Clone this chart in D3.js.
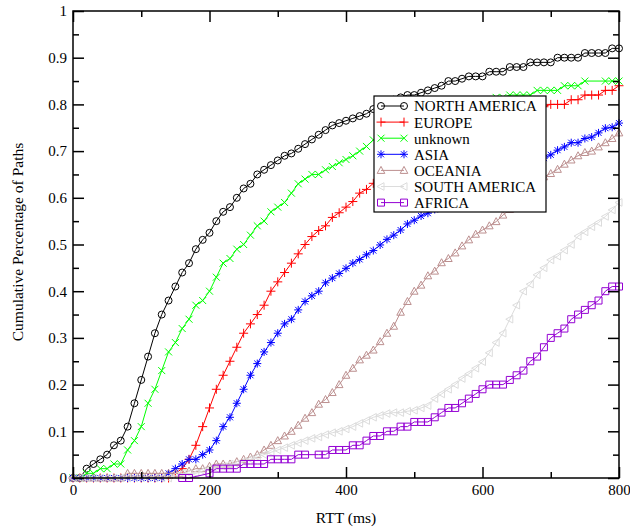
<!DOCTYPE html>
<html>
<head>
<meta charset="utf-8">
<script src="https://cdn.jsdelivr.net/npm/d3@7"></script>
<style>
  html, body { margin: 0; padding: 0; background: #fff; }
  svg { display: block; }
  text { font-family: "Liberation Serif", "Times New Roman", serif; fill: #000; }
</style>
</head>
<body>
<svg id="chart" width="630" height="529"></svg>
<script>
// RTT sample points (ms)
const rttMs = [0,10,20,30,40,50,60,70,80,90,100,110,120,130,140,150,160,170,180,190,
  200,210,220,230,240,250,260,270,280,290,300,310,320,330,340,350,360,370,380,390,
  400,410,420,430,440,450,460,470,480,490,500,510,520,530,540,550,560,570,580,590,
  600,610,620,630,640,650,660,670,680,690,700,710,720,730,740,750,760,770,780,790,800];

// Cumulative fraction of paths per region (null = no sample at that RTT)
const northAmerica = [0,0,0.02,0.03,0.04,0.05,0.07,0.08,0.11,0.16,0.21,0.26,0.31,0.35,0.38,0.41,0.44,0.46,0.49,0.51,
  0.525,0.55,0.57,0.58,0.60,0.62,0.63,0.65,0.66,0.67,0.68,0.69,0.695,0.705,0.715,0.725,0.735,0.745,0.755,0.76,
  0.765,0.77,0.775,0.78,0.79,0.795,0.80,0.81,0.815,0.82,0.82,0.825,0.83,0.835,0.84,0.85,0.85,0.855,0.86,0.86,
  0.86,0.87,0.87,0.87,0.88,0.88,0.88,0.89,0.89,0.89,0.89,0.90,0.90,0.90,0.90,0.91,0.91,0.91,0.91,0.92,0.92];
const europe = [0,0,0,0,0,0,0,0,0,0,0,0,0,0,0,0.01,0.02,0.04,0.07,0.11,
  0.15,0.19,0.22,0.25,0.28,0.31,0.33,0.35,0.37,0.40,0.42,0.44,0.46,0.48,0.50,0.517,0.53,0.54,0.558,0.568,
  0.58,0.592,0.61,0.618,0.631,0.645,0.655,0.665,0.675,0.685,0.695,0.705,0.715,0.725,0.735,0.74,0.75,0.755,0.76,0.765,
  0.77,0.775,0.78,0.78,0.785,0.785,0.79,0.79,0.79,0.795,0.80,0.80,0.80,0.81,0.81,0.82,0.82,0.82,0.83,0.83,0.84];
const unknown = [0,0,0.01,0.01,0.02,0.02,0.03,0.03,0.06,0.08,0.11,0.16,0.19,0.23,0.27,0.29,0.32,0.34,0.37,0.38,
  0.40,0.43,0.46,0.47,0.49,0.50,0.52,0.54,0.55,0.57,0.58,0.59,0.61,0.63,0.64,0.65,0.65,0.66,0.667,0.675,
  0.682,0.69,0.70,0.71,0.724,0.73,0.74,0.745,0.75,0.76,0.765,0.77,0.775,0.78,0.785,0.79,0.795,0.80,0.80,0.805,
  0.81,0.81,0.815,0.815,0.82,0.82,0.82,0.82,0.83,0.83,0.83,0.83,0.84,0.84,0.84,0.85,null,null,0.85,0.85,0.85];
const asia = [0,0,0,0,0,0,0,0,0,0,0,0,0,0,0.01,0.02,0.03,0.04,0.04,0.05,
  0.06,0.08,0.11,0.13,0.16,0.19,0.22,0.245,0.27,0.29,0.31,0.33,0.34,0.36,0.378,0.39,0.40,0.418,0.428,0.438,
  0.449,0.46,0.468,0.478,0.487,0.499,0.511,0.52,0.531,0.544,0.552,0.561,0.567,0.575,0.585,0.59,0.60,0.605,0.615,0.62,
  0.63,0.635,0.64,0.645,0.65,0.655,0.665,0.67,0.678,0.685,0.692,0.702,0.709,0.718,0.718,0.727,0.73,0.739,0.749,0.751,0.76];
const oceania = [0,0,0,0,0,0,0,0,0.01,0.01,0.01,0.01,0.01,0.01,0.01,0.01,0.01,0.015,0.02,0.02,
  0.025,0.03,0.03,0.03,0.035,0.04,0.045,0.05,0.06,0.07,0.08,0.09,0.10,0.113,0.128,0.14,0.158,0.168,0.183,0.20,
  0.22,0.235,0.253,0.263,0.274,0.292,0.31,0.325,0.355,0.378,0.40,0.413,0.433,0.443,0.461,0.47,0.482,0.497,0.51,0.522,
  0.531,0.54,0.549,0.563,0.575,0.59,0.60,0.615,0.63,0.645,0.652,0.661,0.672,0.681,0.69,0.697,0.70,0.709,0.718,0.727,0.739];
const southAmerica = [0,0,0,0,0,0,0,0,0,0,0,0,0,0,0,0.005,0.01,0.01,0.01,0.015,
  0.02,0.02,0.025,0.03,0.03,0.035,0.04,0.045,0.05,0.055,0.06,0.065,0.07,0.075,0.08,0.085,0.088,0.093,0.097,0.10,
  0.105,0.11,0.117,0.123,0.13,0.134,0.138,0.14,0.14,0.143,0.145,0.15,0.155,0.17,0.18,0.19,0.20,0.213,0.223,0.235,
  0.249,0.268,0.29,0.31,0.34,0.37,0.40,0.415,0.435,0.45,0.467,0.475,0.488,0.50,0.518,0.527,0.538,0.547,0.56,0.574,0.59];
const africa = [null,null,null,null,null,null,null,null,null,null,null,null,null,null,null,null,0,0,null,null,
  0.01,0.02,0.02,0.02,0.02,0.03,0.03,0.03,0.03,0.04,0.04,0.04,0.04,0.05,0.05,null,0.05,0.05,0.06,0.06,
  0.06,0.07,0.07,0.08,0.09,0.09,0.10,0.10,0.11,0.11,0.12,0.12,0.12,0.13,0.14,0.15,0.15,0.16,0.17,0.18,
  0.19,0.20,0.20,0.20,0.21,0.22,0.23,0.25,0.26,0.28,0.30,0.31,0.32,0.34,0.35,0.36,0.37,0.38,0.40,0.41,0.41];

const seriesNames = ["NORTH AMERICA", "EUROPE", "unknown", "ASIA", "OCEANIA", "SOUTH AMERICA", "AFRICA"];
const seriesValues = [northAmerica, europe, unknown, asia, oceania, southAmerica, africa];
const seriesColors = ["#000000", "#ff0000", "#00ff00", "#0000ff", "#bc8f8f", "#dcdcdc", "#9400d3"];
const seriesSymbols = ["circle", "plus", "cross", "star", "triUp", "triLeft", "square"];

const xMajorTicks = [0, 200, 400, 600, 800];
const xMinorTicks = [100, 300, 500, 700];
const yMajorTicks = [0, 0.1, 0.2, 0.3, 0.4, 0.5, 0.6, 0.7, 0.8, 0.9, 1];
const yMinorTicks = [0.05, 0.15, 0.25, 0.35, 0.45, 0.55, 0.65, 0.75, 0.85, 0.95];

const svg = d3.select("#chart");
const plotL = 73, plotR = 619, plotT = 11, plotB = 478;

const x = d3.scaleLinear().domain([0, 800]).range([plotL, plotR]);
const y = d3.scaleLinear().domain([0, 1]).range([plotB, plotT]);

// marker shapes, centred on the data point
const symbolPath = {
  plus:    "M-4.5,0H4.5M0,-4.5V4.5",
  cross:   "M-3.5,-3.5L3.5,3.5M-3.5,3.5L3.5,-3.5",
  star:    "M-4,0H4M0,-4V4M-3,-3L3,3M-3,3L3,-3",
  triUp:   "M0,-4L3.8,3L-3.8,3Z",
  triLeft: "M-4,0L3,-3.8L3,3.8Z",
  square:  "M-3.5,-3.5H3.5V3.5H-3.5Z"
};
function drawSymbol(g, type, color) {
  if (type === "circle") {
    g.append("circle").attr("r", 3.5).attr("fill", "none").attr("stroke", color).attr("stroke-width", 1);
  } else {
    g.append("path").attr("d", symbolPath[type]).attr("fill", "none")
      .attr("stroke", color).attr("stroke-width", 1);
  }
}

// curves
const line = d3.line().x(d => x(d[0])).y(d => y(d[1]));
const plot = svg.append("g");
seriesValues.forEach((vals, i) => {
  const pts = rttMs.map((t, k) => [t, vals[k]]).filter(d => d[1] !== null);
  const g = plot.append("g");
  g.append("path").datum(pts).attr("d", line)
    .attr("fill", "none").attr("stroke", seriesColors[i]).attr("stroke-width", 1);
  g.selectAll("g.m").data(pts).join("g").attr("class", "m")
    .attr("transform", d => `translate(${x(d[0])},${y(d[1])})`)
    .each(function() { drawSymbol(d3.select(this), seriesSymbols[i], seriesColors[i]); });
});

// axes: ticks point inward on all four sides
function styleAxis(g) {
  g.select(".domain").remove();
  g.selectAll(".tick line").attr("stroke", "#000").attr("stroke-width", 1.5);
  g.selectAll("text").style("font-size", "15px").attr("fill", "#000");
}
const fmtY = d => d === 0 ? "0" : d === 1 ? "1" : d3.format(".1f")(d);

svg.append("g").attr("transform", `translate(0,${plotB})`)
  .call(d3.axisBottom(x).tickValues(xMajorTicks).tickSize(-11).tickPadding(6).tickFormat(d3.format("d")))
  .call(styleAxis);
svg.append("g").attr("transform", `translate(0,${plotB})`)
  .call(d3.axisBottom(x).tickValues(xMinorTicks).tickSize(-6).tickFormat(""))
  .call(styleAxis);
svg.append("g").attr("transform", `translate(0,${plotT})`)
  .call(d3.axisTop(x).tickValues(xMajorTicks).tickSize(-11).tickFormat(""))
  .call(styleAxis);
svg.append("g").attr("transform", `translate(0,${plotT})`)
  .call(d3.axisTop(x).tickValues(xMinorTicks).tickSize(-6).tickFormat(""))
  .call(styleAxis);
svg.append("g").attr("transform", `translate(${plotL},0)`)
  .call(d3.axisLeft(y).tickValues(yMajorTicks).tickSize(-11).tickPadding(6).tickFormat(fmtY))
  .call(styleAxis);
svg.append("g").attr("transform", `translate(${plotL},0)`)
  .call(d3.axisLeft(y).tickValues(yMinorTicks).tickSize(-6).tickFormat(""))
  .call(styleAxis);
svg.append("g").attr("transform", `translate(${plotR},0)`)
  .call(d3.axisRight(y).tickValues(yMajorTicks).tickSize(-11).tickFormat(""))
  .call(styleAxis);
svg.append("g").attr("transform", `translate(${plotR},0)`)
  .call(d3.axisRight(y).tickValues(yMinorTicks).tickSize(-6).tickFormat(""))
  .call(styleAxis);

// frame
svg.append("rect").attr("x", plotL).attr("y", plotT)
  .attr("width", plotR - plotL).attr("height", plotB - plotT)
  .attr("fill", "none").attr("stroke", "#000").attr("stroke-width", 1.5);

// axis titles
svg.append("text").attr("x", (plotL + plotR) / 2).attr("y", 523)
  .attr("text-anchor", "middle").style("font-size", "15.5px").text("RTT (ms)");
svg.append("text").attr("transform", "translate(22.5,242) rotate(-90)")
  .attr("text-anchor", "middle").style("font-size", "15.5px").text("Cumulative Percentage of Paths");

// legend
const lg = svg.append("g");
lg.append("rect").attr("x", 374).attr("y", 96).attr("width", 172).attr("height", 116)
  .attr("fill", "#fff").attr("stroke", "#000").attr("stroke-width", 1.2);
seriesNames.forEach((name, i) => {
  const ry = 106 + i * 16.1;
  lg.append("line").attr("x1", 381).attr("x2", 404).attr("y1", ry).attr("y2", ry)
    .attr("stroke", seriesColors[i]).attr("stroke-width", 1);
  [381, 404].forEach(px => {
    const m = lg.append("g").attr("transform", `translate(${px},${ry})`);
    drawSymbol(m, seriesSymbols[i], seriesColors[i]);
  });
  lg.append("text").attr("x", 414).attr("y", ry).attr("dy", "0.36em")
    .style("font-size", "15px").text(name);
});
</script>
</body>
</html>
